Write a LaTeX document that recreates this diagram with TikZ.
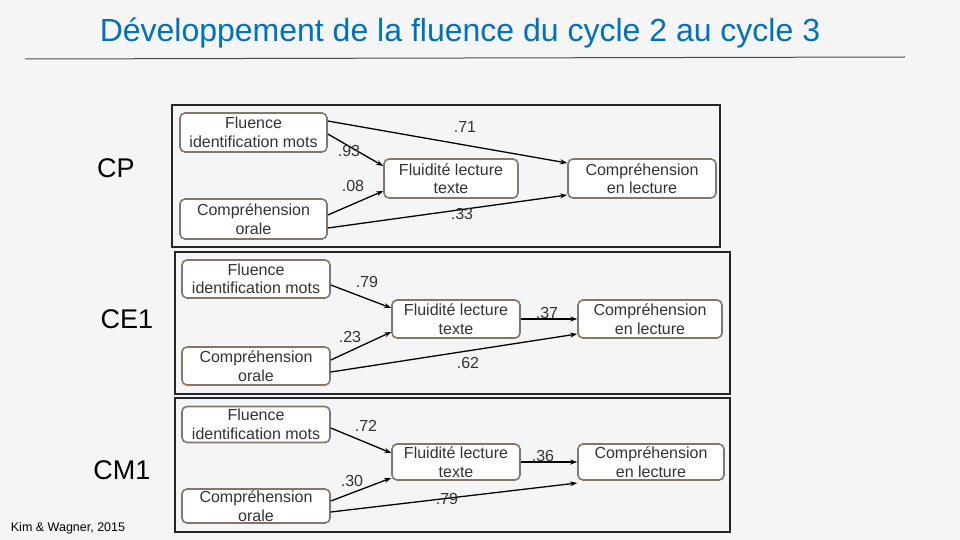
\documentclass[tikz,border=0pt]{standalone}
\usepackage{fontspec}
\setmainfont{Liberation Sans}
\usetikzlibrary{arrows.meta}
\definecolor{ttl}{RGB}{0,112,192}
\definecolor{bx}{RGB}{128,120,110}
\begin{document}
\begin{tikzpicture}[x=1pt,y=-1pt,
  bxs/.style={draw=bx,line width=1.6pt,rounded corners=5pt,fill=white,align=center,font=\fontsize{16}{18.5}\selectfont,text=black!80,inner sep=0pt},
  frm/.style={draw=black!85,line width=1.8pt},
  arr/.style={-{Stealth[length=7pt,width=5pt]},line width=1.3pt},
  lbl/.style={font=\fontsize{16}{17}\selectfont,text=black!80},
  stg/.style={font=\fontsize{27}{29}\selectfont}]
\fill[gray!8] (0,0) rectangle (960,540);
\useasboundingbox (0,0) rectangle (960,540);
\node[text=ttl,font=\fontsize{32}{34}\selectfont] (title) at (460,33) {Développement de la fluence du cycle 2 au cycle 3};
\draw[black!70,line width=1pt] (25,59) -- (905,57);
% CP
\draw[frm] (172,105) rectangle (720,247);
\node[bxs,minimum width=147pt,minimum height=39pt] (fi1) at (253.5,132.5) {Fluence\\identification mots};
\node[bxs,minimum width=147pt,minimum height=40pt] (co1) at (253.5,219) {Compréhension\\orale};
\node[bxs,minimum width=134pt,minimum height=39pt] (fl1) at (451,178.5) {Fluidité lecture\\texte};
\node[bxs,minimum width=148pt,minimum height=39pt] (cl1) at (642,178.5) {Compréhension\\en lecture};
\draw[arr] (fi1.east|-0,121) -- (cl1.west|-0,163);
\draw[arr] (fi1.east|-0,134) -- (fl1.west|-0,166);
\draw[arr] (co1.east|-0,215) -- (fl1.west|-0,191);
\draw[arr] (co1.east|-0,228) -- (cl1.west|-0,195);
\node[lbl] (a1) at (465,127) {.71};
\node[lbl] (b1) at (349,151) {.93};
\node[lbl] (c1) at (353,186) {.08};
\node[lbl] (d1) at (462,214) {.33};
\node[stg] (cp) at (116,168) {CP};
% CE1
\draw[frm] (175,252) rectangle (730,394);
\node[bxs,minimum width=148pt,minimum height=38pt] (fi2) at (256,279) {Fluence\\identification mots};
\node[bxs,minimum width=148pt,minimum height=38pt] (co2) at (256,366) {Compréhension\\orale};
\node[bxs,minimum width=128pt,minimum height=38pt] (fl2) at (456,319) {Fluidité lecture\\texte};
\node[bxs,minimum width=144pt,minimum height=38pt] (cl2) at (650,319) {Compréhension\\en lecture};
\draw[arr] (fi2.east|-0,285) -- (fl2.west|-0,308);
\draw[arr] (co2.east|-0,360) -- (fl2.west|-0,332);
\draw[arr] (fl2) -- (cl2);
\draw[arr] (co2.east|-0,372) -- (cl2.west|-0,334);
\node[lbl] (a2) at (367,282) {.79};
\node[lbl] (b2) at (350,337) {.23};
\node[lbl] (c2) at (547,313) {.37};
\node[lbl] (d2) at (468,363) {.62};
\node[stg] (ce) at (127,319) {CE1};
% CM1
\draw[frm] (175,398) rectangle (730,532);
\node[bxs,minimum width=148pt,minimum height=36pt] (fi3) at (256,424.5) {Fluence\\identification mots};
\node[bxs,minimum width=148pt,minimum height=34pt] (co3) at (256,506) {Compréhension\\orale};
\node[bxs,minimum width=128pt,minimum height=36pt] (fl3) at (456,462) {Fluidité lecture\\texte};
\node[bxs,minimum width=146pt,minimum height=36pt] (cl3) at (651,462) {Compréhension\\en lecture};
\draw[arr] (fi3.east|-0,428) -- (fl3.west|-0,453);
\draw[arr] (co3.east|-0,501) -- (fl3.west|-0,478);
\draw[arr] (fl3) -- (cl3);
\draw[arr] (co3.east|-0,512) -- (cl3.west|-0,483);
\node[lbl] (a3) at (366,426) {.72};
\node[lbl] (b3) at (352,481) {.30};
\node[lbl] (c3) at (543,456) {.36};
\node[lbl] (d3) at (447,499) {.79};
\node[stg] (cm) at (122,470) {CM1};
\node[font=\fontsize{12.5}{13}\selectfont] (src) at (68,528) {Kim \& Wagner, 2015};
\end{tikzpicture}
\end{document}
